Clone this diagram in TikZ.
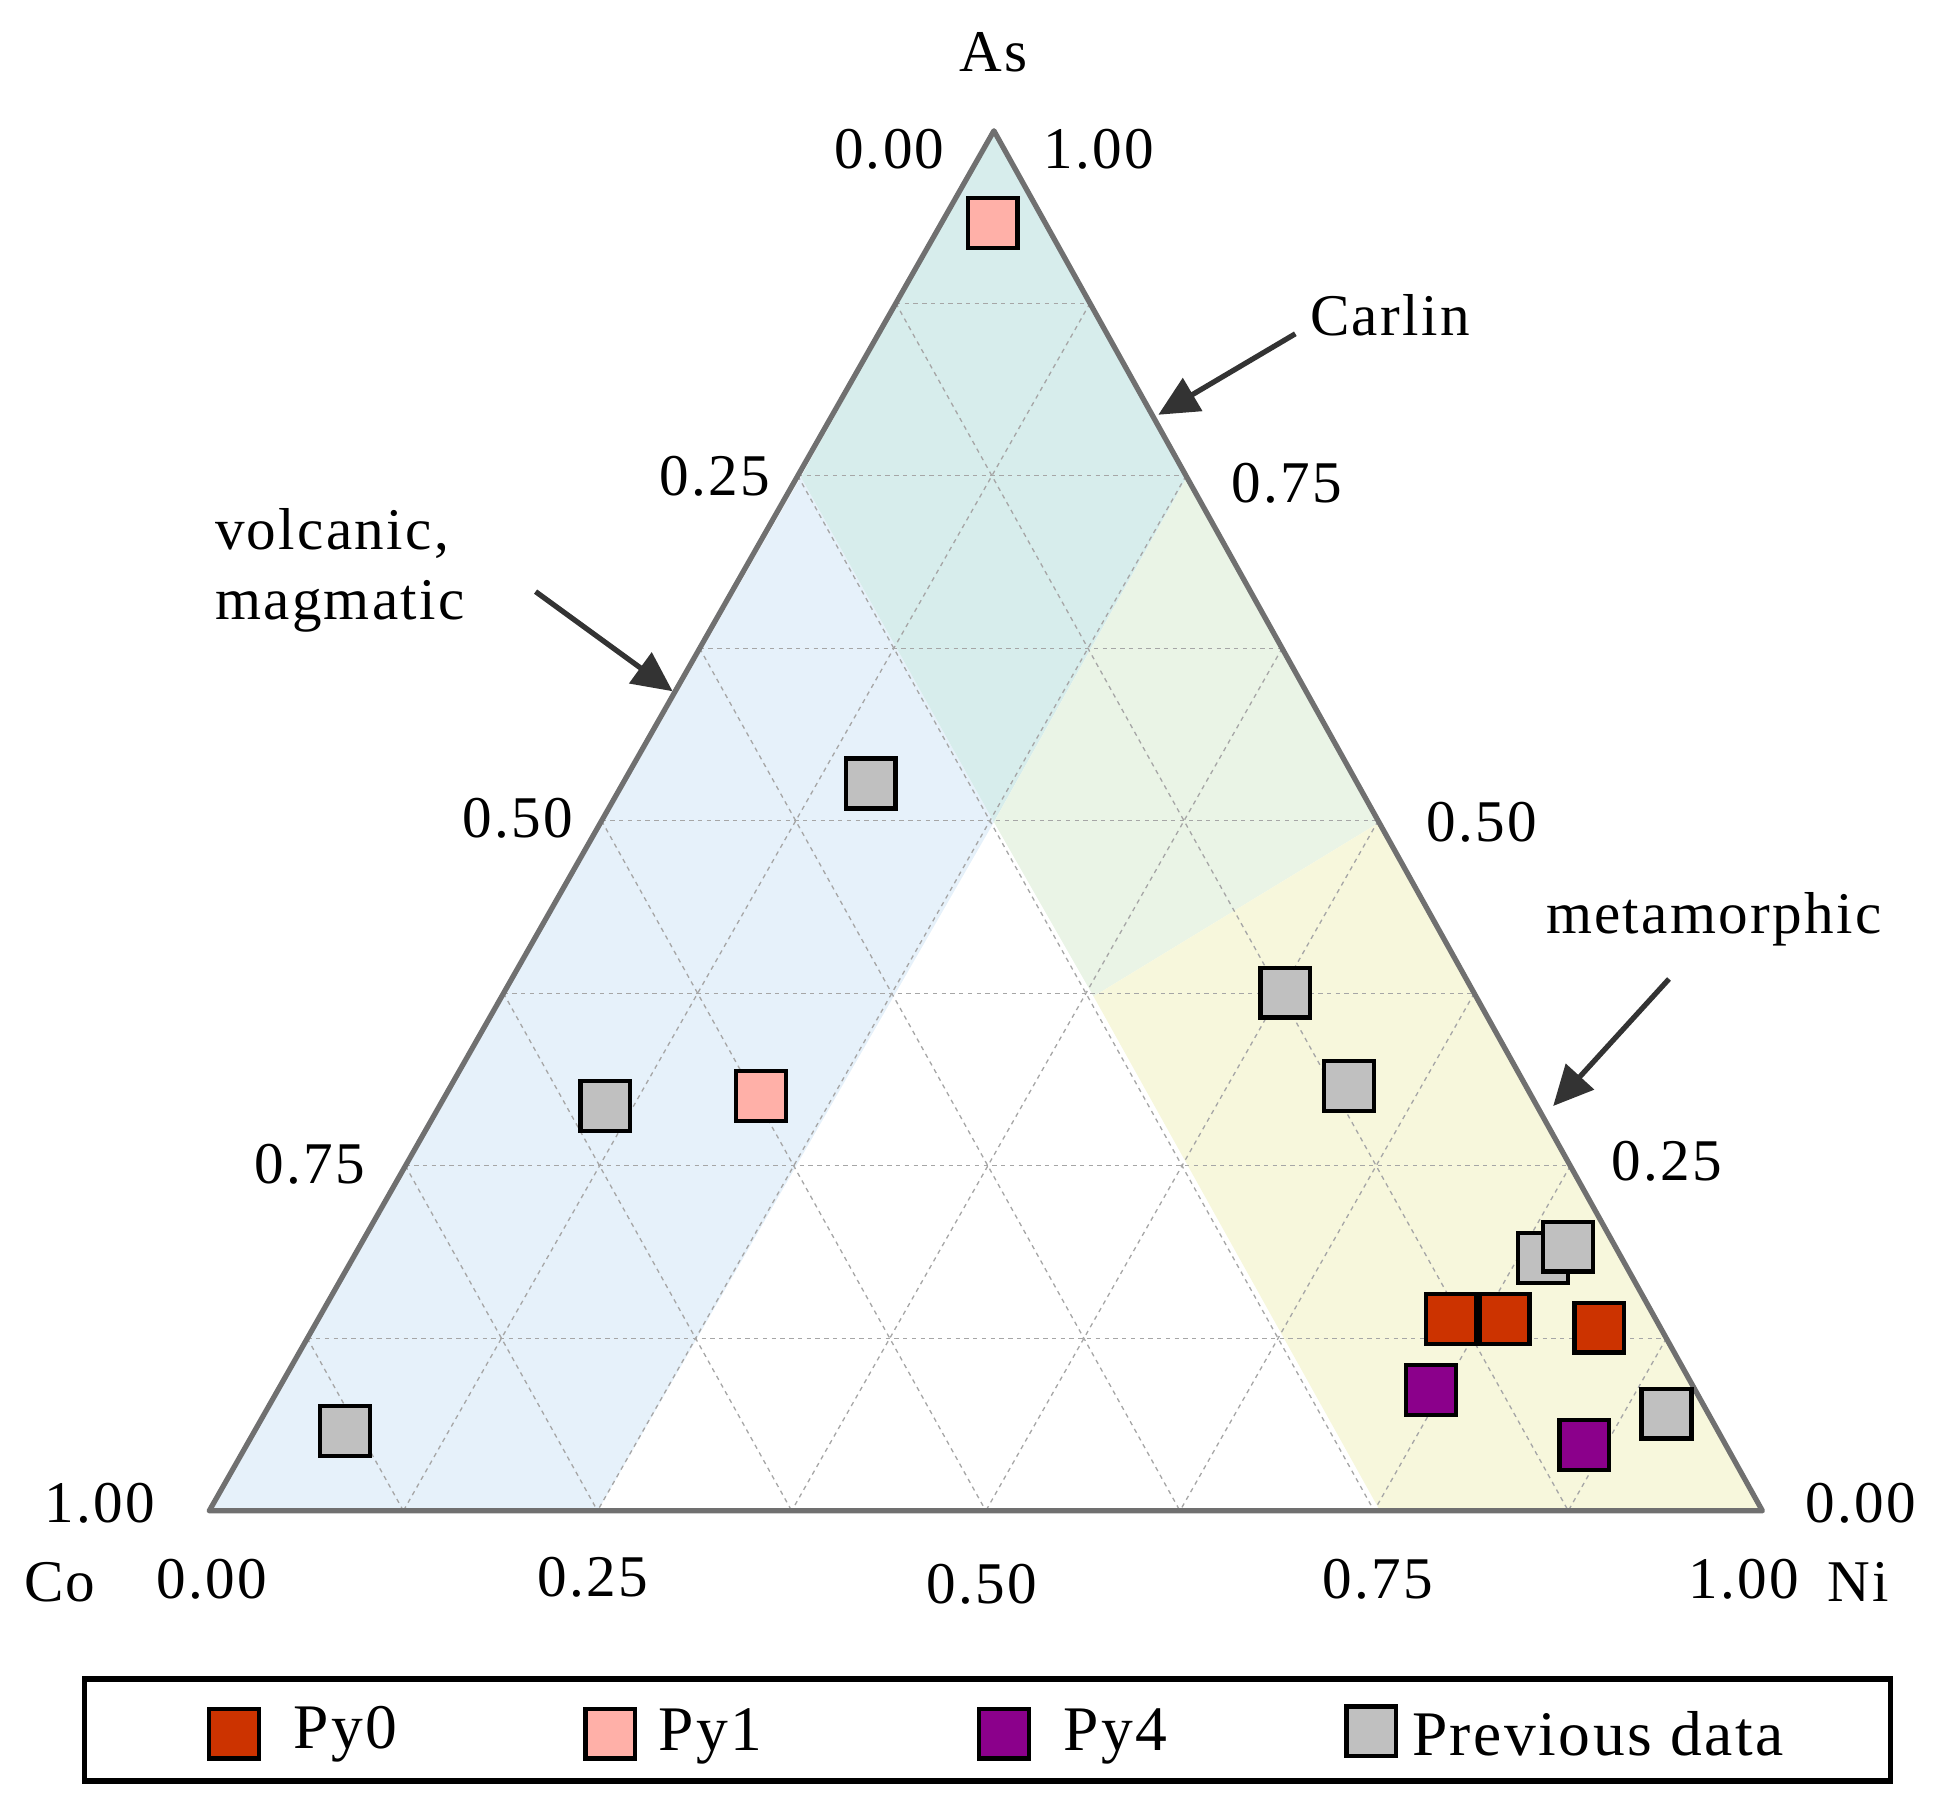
\documentclass[tikz,border=0pt]{standalone}
\usepackage{fontspec}
\setmainfont{Liberation Serif}[LetterSpace=4]
\usetikzlibrary{arrows.meta}
\definecolor{cblue}{HTML}{E6F1FA}
\definecolor{cteal}{HTML}{D7EDEC}
\definecolor{cgreen}{HTML}{EAF4E6}
\definecolor{cyell}{HTML}{F7F7DC}
\definecolor{py0}{HTML}{CC3300}
\definecolor{py1}{HTML}{FFB0A8}
\definecolor{py4}{HTML}{8B008B}
\definecolor{prev}{HTML}{C0C0C0}
\definecolor{edge}{HTML}{707070}
\tikzset{
  lbl/.style={font=\fontsize{13.5}{16}\selectfont, inner sep=0pt},
  leg/.style={font=\fontsize{14.5}{16}\selectfont, inner sep=0pt},
  grid line/.style={draw=gray!70, line width=0.3pt, dash pattern=on 1pt off 1pt},
  mk/.style={draw=black, line width=1pt, minimum size=0.4cm, inner sep=0pt},
  arr/.style={draw=black!80, line width=1.2pt, -{Triangle[length=0.32cm,width=0.3cm]}}
}
\begin{document}
\begin{tikzpicture}[x=0.01cm,y=-0.01cm]
\useasboundingbox (0,0) rectangle (1560,1449);
\coordinate (A) at (798,105);
\coordinate (L) at (168,1213);
\coordinate (R) at (1415,1213);
\fill[cblue] (168,1213)--(480,1213)--(798,660)--(643,383)--cycle;
\fill[cteal] (A)--(643,383)--(798,660)--(953,383)--cycle;
\fill[cgreen] (953,383)--(1108,660)--(878,800)--(798,660)--cycle;
\fill[cyell] (1108,660)--(1415,1213)--(1108,1213)--(878,800)--cycle;
\foreach \i in {1,...,7}{
  \pgfmathsetmacro{\t}{\i/8}\pgfmathsetmacro{\u}{1-\i/8}
  \draw[grid line] (barycentric cs:A=\t,L=\u) -- (barycentric cs:A=\t,R=\u);
  \draw[grid line] (barycentric cs:L=\t,A=\u) -- (barycentric cs:L=\t,R=\u);
  \draw[grid line] (barycentric cs:R=\t,A=\u) -- (barycentric cs:R=\t,L=\u);
}
\draw[edge, line width=1.2pt, line join=round] (A)--(L)--(R)--cycle;
\node[mk, fill=py1] (m1) at (797,179) {};
\node[mk, fill=py1] (m2) at (611,880) {};
\node[mk, fill=prev] (g1) at (699,629) {};
\node[mk, fill=prev] (g2) at (486,888) {};
\node[mk, fill=prev] (g3) at (277,1149) {};
\node[mk, fill=prev] (g4) at (1032,797) {};
\node[mk, fill=prev] (g5) at (1083,872) {};
\node[mk, fill=prev] (g6) at (1239,1010) {};
\node[mk, fill=prev] (g7) at (1259,1001) {};
\node[mk, fill=prev] (g8) at (1338,1135) {};
\node[mk, fill=py0] (r1) at (1165,1059) {};
\node[mk, fill=py0] (r2) at (1208,1059) {};
\node[mk, fill=py0] (r3) at (1284,1066) {};
\node[mk, fill=py4] (p1) at (1149,1116) {};
\node[mk, fill=py4] (p2) at (1272,1160) {};
\node[lbl] (tAs) at (798,42) {As};
\node[lbl] at (714,120) {0.00};
\node[lbl] at (882,120) {1.00};
\node[lbl] at (574,382) {0.25};
\node[lbl] at (1033,388) {0.75};
\node[lbl] at (416,657) {0.50};
\node[lbl] at (1190,660) {0.50};
\node[lbl] at (249,935) {0.75};
\node[lbl] at (1338,932) {0.25};
\node[lbl] at (80,1207) {1.00};
\node[lbl] at (1494,1207) {0.00};
\node[lbl] at (48,1270) {Co};
\node[lbl] at (170,1268) {0.00};
\node[lbl] at (476,1266) {0.25};
\node[lbl] at (788,1272) {0.50};
\node[lbl] at (1106,1268) {0.75};
\node[lbl] at (1400,1268) {1.00};
\node[lbl] at (1492,1270) {Ni};
\node[lbl] (carlin) at (1116,253) {Carlin};
\node[lbl, anchor=west, align=left] (volc) at (172,458) {volcanic,\\magmatic};
\node[lbl] (meta) at (1376,738) {metamorphic};
\coordinate (c1) at (1040,268); \coordinate (c2) at (930,333);
\coordinate (v1) at (430,475); \coordinate (v2) at (540,555);
\coordinate (e1) at (1340,786); \coordinate (e2) at (1247,888);
\draw[arr] (c1) -- (c2);
\draw[arr] (v1) -- (v2);
\draw[arr] (e1) -- (e2);
\draw[black, line width=1.2pt] (68,1348) rectangle (1518,1430);
\node[mk, fill=py0] (l1) at (188,1392) {};
\node[mk, fill=py1] (l2) at (490,1392) {};
\node[mk, fill=py4] (l3) at (806,1392) {};
\node[mk, fill=prev] (l4) at (1101,1390) {};
\node[leg, anchor=west] at (235,1392) {Py0};
\node[leg, anchor=west] at (528,1394) {Py1};
\node[leg, anchor=west] at (853,1394) {Py4};
\node[leg, anchor=west] at (1133,1392) {Previous data};
\end{tikzpicture}
\end{document}
